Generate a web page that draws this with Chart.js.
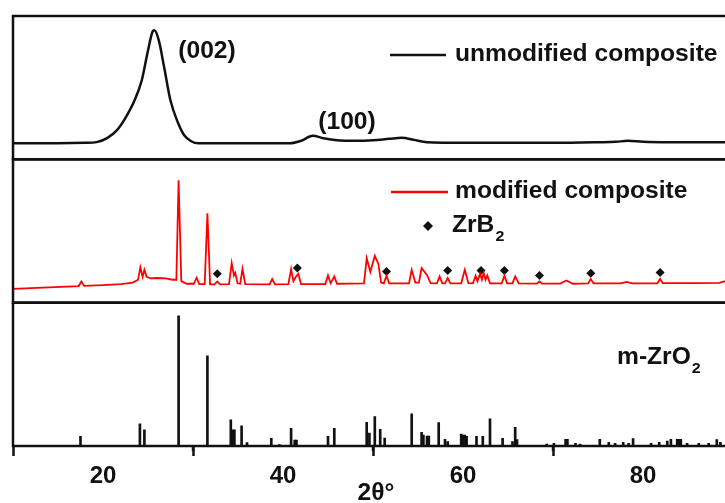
<!DOCTYPE html>
<html>
<head>
<meta charset="utf-8">
<script src="https://cdn.jsdelivr.net/npm/chart.js@4.4.1/dist/chart.umd.min.js"></script>
<style>
    html, body { margin: 0; padding: 0; overflow: hidden; background: #fff; }
</style>
</head>
<body>
<canvas id="xrd" width="750" height="503"></canvas>
<script>
// unmodified composite (top panel), broad carbon peaks
const unmodTheta = [10, 15, 18, 19.3, 20.5, 21.5, 22.5, 23.5, 24.3, 25.0, 25.5, 25.7, 26.2, 26.8, 27.5, 28.3, 29.0, 29.8, 30.6, 35, 40.8, 42.0, 43.3, 44.5, 46, 48, 50, 51.8, 53.2, 54.5, 56, 60, 65, 70, 75, 77, 78.3, 80, 83, 90];
const unmodCounts = [11.2, 11.2, 11.5, 12, 15, 20, 29, 41, 55, 76, 89, 90, 83, 64, 41, 26, 17, 12.6, 11.2, 11.2, 11.2, 12.9, 16.4, 14.7, 13.3, 12.9, 13.3, 14.3, 15, 13.6, 11.9, 11.5, 11.5, 11.5, 11.9, 12.2, 12.9, 12.2, 11.9, 11.9];

// modified composite (middle panel)
const modTheta = [10, 14, 17.3, 17.6, 17.9, 20, 22, 23.3, 23.9, 24.15, 24.4, 24.6, 24.85, 25.3, 26, 27, 27.7, 28.15, 28.4, 28.7, 29.3, 30.1, 30.4, 30.7, 31.3, 31.6, 31.9, 32.4, 32.7, 33, 34.0, 34.3, 34.55, 34.7, 34.95, 35.25, 35.5, 35.8, 38.5, 38.8, 39.1, 40.6, 40.9, 41.15, 41.45, 41.7, 42.0, 44.7, 45.0, 45.3, 45.7, 46.0, 49.0, 49.3, 49.7, 50.2, 50.6, 50.9, 51.2, 51.5, 51.8, 54.0, 54.3, 54.7, 55.1, 55.4, 56.0, 56.4, 57.1, 57.4, 57.7, 58.0, 58.3, 58.6, 59.8, 60.2, 60.6, 61.1, 61.4, 61.6, 61.9, 62.1, 62.3, 62.5, 62.7, 63.0, 64.3, 64.6, 64.9, 65.5, 65.8, 66.2, 68.2, 68.5, 68.8, 70.8, 71.5, 72.2, 73.9, 74.2, 74.5, 77.5, 78.2, 78.8, 81.6, 81.9, 82.2, 86, 88.5, 89, 90];
const modCounts = [9.6, 10.6, 11.6, 14.8, 11.7, 12.3, 12.9, 14, 16, 24.8, 18, 22.9, 18, 17, 17.2, 17, 16, 16, 85.4, 15, 13.2, 13.2, 17.4, 13, 13, 62.3, 12.8, 12.8, 14.8, 12.8, 13, 27.6, 19, 20.8, 13.5, 13.2, 23.6, 13, 12.8, 16.5, 12.8, 13, 23.4, 15, 18.3, 20.1, 13, 13, 19, 13.5, 18.3, 13.2, 13.5, 31, 21.5, 32.6, 27, 14, 13.5, 18.8, 13.5, 13.5, 22.9, 14, 14, 24.1, 19.4, 13.6, 13.5, 18.3, 13.5, 13.5, 17.2, 13.4, 13.5, 22.9, 13.6, 13.5, 18.8, 15, 20.1, 16, 20.6, 16, 19, 13.5, 13.5, 18.8, 13.5, 13.5, 18.3, 13.4, 13.3, 14.8, 13.3, 13.3, 15.5, 13.2, 13.4, 16.5, 13.4, 13.5, 14.5, 13.5, 13.5, 16.5, 13.6, 13.6, 13.8, 14.8, 14.2];

// ZrB2 reflections marked with diamonds
const zrb2Theta = [32.7, 41.6, 51.5, 58.3, 62.0, 64.6, 68.5, 74.2, 81.9];
const zrb2Marks = [20.1, 24.1, 21.7, 22.4, 22.4, 22.4, 19, 20.6, 21];

// m-ZrO2 reference pattern (bottom panel)
const zro2Theta = [17.5, 24.1, 24.6, 28.4, 31.6, 34.2, 34.4, 34.6, 35.4, 36.0, 38.7, 39.6, 40.9, 41.3, 41.5, 45.0, 45.7, 49.3, 49.6, 50.2, 50.8, 51.3, 54.3, 55.4, 55.6, 56.0, 56.2, 57.3, 58.0, 58.3, 59.8, 60.0, 60.2, 60.4, 61.5, 62.2, 63.0, 64.4, 65.5, 65.8, 66.0, 69.3, 70.1, 71.4, 71.6, 72.5, 73.0, 75.2, 76.2, 76.9, 77.8, 78.4, 78.9, 80.9, 81.8, 82.7, 83.1, 83.8, 84.0, 84.2, 84.9, 86.2, 87.3, 88.2, 88.6];
const zro2Int = [6.8, 15.4, 11.2, 90.9, 62.9, 18.2, 11.2, 11.2, 14, 2.3, 5.4, 1, 12.4, 4.2, 4.2, 6.8, 12.4, 16.5, 9, 20.5, 11.7, 5.6, 22.4, 9.6, 7.7, 7, 7, 16.3, 4.7, 3, 8.4, 7.7, 7.7, 6.8, 6.8, 6.8, 18.9, 5.4, 3, 13.1, 4.5, 1.4, 1.9, 4.7, 4.7, 1.9, 1.4, 4.7, 2.6, 1.9, 2.6, 1.9, 5.2, 1.9, 2.6, 3.5, 4.7, 4.7, 4.7, 4.7, 1.9, 1.9, 1.9, 4.5, 2.6];

const majorTicks = [20, 40, 60, 80];
const minorTicks = [30, 50, 70];

const FONT = "Arial, 'Liberation Sans', sans-serif";
const INK = '#111';
const STRETCH = 1.07; // the figure's lettering is a touch wide

const toPoints = (xs, ys) => xs.map((x, i) => ({x, y: ys[i]}));

const panelAxis = {
    display: true,
    position: 'left',
    stack: 'xrd',
    stackWeight: 1,
    min: 0,
    max: 100,
    grid: {display: false, drawTicks: false},
    border: {display: false},
    ticks: {display: false}
};

// text drawn slightly stretched, returns its width
const wideText = (ctx, text, x, y, align = 'left') => {
    ctx.save();
    ctx.translate(x, y);
    ctx.scale(STRETCH, 1);
    ctx.textAlign = align;
    ctx.fillText(text, 0, 0);
    const w = ctx.measureText(text).width * STRETCH;
    ctx.restore();
    return w;
};

// frames round each panel + short minor ticks on the bottom axis
const panelFrame = {
    id: 'panelFrame',
    afterDatasetsDraw(chart) {
        const {ctx, chartArea, scales} = chart;
        ctx.save();
        ctx.strokeStyle = INK;
        ctx.lineWidth = 2.5;
        ['yTop', 'yMid', 'yBot'].forEach(id => {
            const s = scales[id];
            ctx.strokeRect(chartArea.left, s.top, chartArea.right - chartArea.left, s.bottom - s.top);
        });
        minorTicks.forEach(v => {
            const px = scales.x.getPixelForValue(v);
            ctx.beginPath();
            ctx.moveTo(px, chartArea.bottom);
            ctx.lineTo(px, chartArea.bottom + 5);
            ctx.stroke();
        });
        ctx.restore();
    }
};

// peak labels, legends and axis title
const labels = {
    id: 'labels',
    afterDraw(chart) {
        const {ctx} = chart;
        const big = `bold 23px ${FONT}`;
        const sub = `bold 15px ${FONT}`;
        ctx.save();
        ctx.fillStyle = INK;
        ctx.textBaseline = 'middle';
        ctx.font = big;

        wideText(ctx, '(002)', 207, 52, 'center');
        wideText(ctx, '(100)', 347, 123, 'center');
        wideText(ctx, '2θ°', 376, 494, 'center');

        ctx.lineWidth = 2.5;
        ctx.strokeStyle = INK;
        ctx.beginPath(); ctx.moveTo(390, 55); ctx.lineTo(446, 55); ctx.stroke();
        wideText(ctx, 'unmodified composite', 455, 55);

        ctx.strokeStyle = '#ff0000';
        ctx.beginPath(); ctx.moveTo(391, 192); ctx.lineTo(448, 192); ctx.stroke();
        wideText(ctx, 'modified composite', 455, 192);

        // diamond symbol for ZrB2
        ctx.beginPath();
        ctx.moveTo(428, 221); ctx.lineTo(433, 226); ctx.lineTo(428, 231); ctx.lineTo(423, 226);
        ctx.closePath(); ctx.fill();
        const w1 = wideText(ctx, 'ZrB', 452, 226);
        const w2 = wideText(ctx, 'm-ZrO', 617, 358);
        ctx.font = sub;
        wideText(ctx, '2', 452 + w1 + 1, 237);
        wideText(ctx, '2', 617 + w2 + 1, 369);
        ctx.restore();
    }
};

new Chart(document.getElementById('xrd'), {
    type: 'line',
    data: {
        datasets: [
            {
                label: 'unmodified composite',
                data: toPoints(unmodTheta, unmodCounts),
                yAxisID: 'yTop',
                borderColor: INK,
                borderWidth: 2.5,
                pointRadius: 0,
                cubicInterpolationMode: 'monotone'
            },
            {
                label: 'modified composite',
                data: toPoints(modTheta, modCounts),
                yAxisID: 'yMid',
                borderColor: '#ff0000',
                borderWidth: 1.8,
                pointRadius: 0,
                tension: 0
            },
            {
                label: 'ZrB2',
                data: toPoints(zrb2Theta, zrb2Marks),
                yAxisID: 'yMid',
                showLine: false,
                pointStyle: 'rectRot',
                pointRadius: 4.5,
                pointBackgroundColor: INK,
                pointBorderColor: INK,
                pointBorderWidth: 0
            },
            {
                type: 'bar',
                label: 'm-ZrO2',
                data: toPoints(zro2Theta, zro2Int),
                yAxisID: 'yBot',
                backgroundColor: INK,
                barThickness: 2,
                grouped: false
            }
        ]
    },
    options: {
        responsive: false,
        animation: false,
        layout: {padding: {left: 13, top: 16, right: 17, bottom: 7}},
        plugins: {legend: {display: false}, tooltip: {enabled: false}},
        scales: {
            x: {
                type: 'linear',
                min: 10,
                max: 90,
                offset: false,
                afterBuildTicks: axis => { axis.ticks = majorTicks.map(v => ({value: v})); },
                grid: {drawOnChartArea: false, tickLength: 10, tickWidth: 2.5, tickColor: INK},
                border: {display: false},
                ticks: {
                    padding: 8,
                    color: INK,
                    maxRotation: 0,
                    font: {family: FONT, size: 24, weight: 'bold', lineHeight: 1}
                }
            },
            yBot: {...panelAxis},
            yMid: {...panelAxis},
            yTop: {...panelAxis}
        }
    },
    plugins: [panelFrame, labels]
});
</script>
</body>
</html>
